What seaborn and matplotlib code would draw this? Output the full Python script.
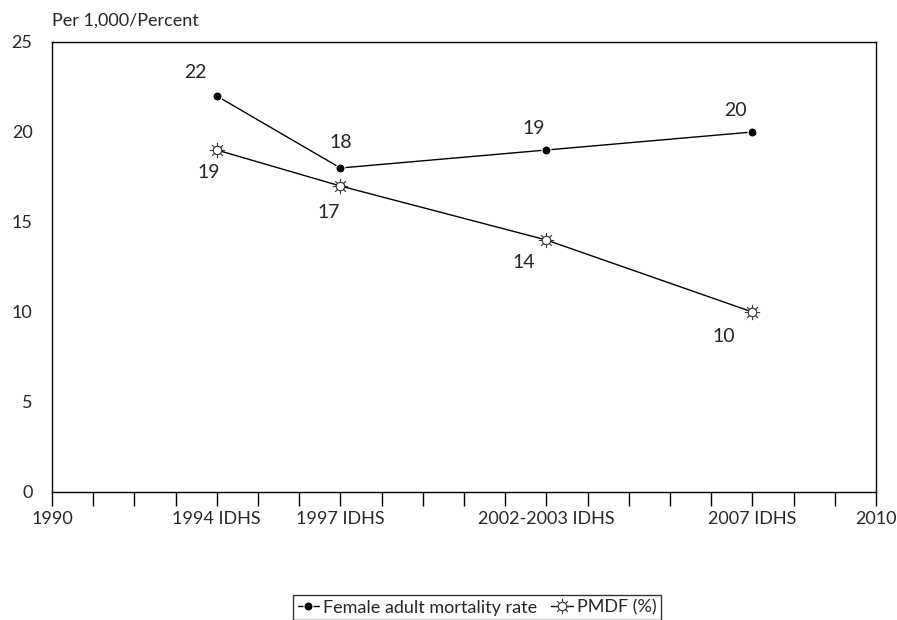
import matplotlib
matplotlib.use("Agg")
import matplotlib.pyplot as plt
from matplotlib.path import Path
import numpy as np
import pandas as pd
import seaborn as sns

sns.set_theme(style="white")
plt.rcParams["font.family"] = ["Lato", "DejaVu Sans"]

survey_years = [1994, 1997, 2002, 2007]
female_mortality = [22, 18, 19, 20]
pmdf_pct = [19, 17, 14, 10]
tick_years = [1990, 1994, 1997, 2002, 2007, 2010]
tick_labels = ["1990", "1994 IDHS", "1997 IDHS", "2002-2003 IDHS", "2007 IDHS", "2010"]

# label offsets in pixels (dx, dy) relative to each point
female_offsets = [(-21, 24), (0, 25), (-13, 22), (-17, 21)]
pmdf_offsets = [(-8, -22), (-12, -26), (-23, -22), (-29, -24)]


def sun_marker():
    # small circle with eight short rays
    circle = Path.unit_circle()
    circle = Path(circle.vertices * 0.55, circle.codes)
    parts = [circle]
    for a in np.arange(8) * np.pi / 4:
        c, s = np.cos(a), np.sin(a)
        parts.append(Path([(0.6 * c, 0.6 * s), (1.0 * c, 1.0 * s)],
                          [Path.MOVETO, Path.LINETO]))
    return Path.make_compound_path(*parts)


SUN = sun_marker()

df = pd.DataFrame({
    "year": survey_years * 2,
    "value": female_mortality + pmdf_pct,
    "series": ["Female adult mortality rate"] * 4 + ["PMDF (%)"] * 4,
})

fig = plt.figure(figsize=(8.97, 6.2), dpi=100)
ax = fig.add_axes([52 / 897, 1 - 492 / 620, 824 / 897, 450 / 620])

sns.lineplot(data=df[df.series == "Female adult mortality rate"], x="year", y="value",
             color="black", marker="o", markersize=6.5, linewidth=1,
             label="Female adult mortality rate", ax=ax)
sns.lineplot(data=df[df.series == "PMDF (%)"], x="year", y="value",
             color="black", marker=SUN, markersize=11, markeredgewidth=0.8,
             markerfacecolor="white", markeredgecolor="#333333",
             linewidth=1, label="PMDF (%)", ax=ax)

for x, y, (dx, dy) in zip(survey_years, female_mortality, female_offsets):
    ax.annotate(str(y), (x, y), xytext=(dx, dy), textcoords="offset pixels",
                ha="center", va="center", fontsize=14)
for x, y, (dx, dy) in zip(survey_years, pmdf_pct, pmdf_offsets):
    ax.annotate(str(y), (x, y), xytext=(dx, dy), textcoords="offset pixels",
                ha="center", va="center", fontsize=14)

ax.set_xlim(1990, 2010)
ax.set_ylim(0, 25)
ax.set_xticks(range(1990, 2011), minor=True)
ax.set_xticks(tick_years)
ax.set_xticklabels(tick_labels, fontsize=13)
ax.set_yticks(range(0, 26, 5))
ax.tick_params(axis="y", length=0, labelsize=13, pad=14)
ax.tick_params(axis="x", which="both", direction="out", length=10, width=1,
               color="black", bottom=True, pad=4)
ax.set_xlabel("")
ax.set_ylabel("")
for s in ax.spines.values():
    s.set_color("black")
    s.set_linewidth(1)

fig.text(52 / 897, 1 - 21 / 620, "Per 1,000/Percent", fontsize=13,
         ha="left", va="center")

leg = ax.legend(loc="upper center", bbox_to_anchor=(477 / 897, 1 - 595 / 620),
                bbox_transform=fig.transFigure, ncol=2, frameon=True,
                fancybox=False, edgecolor="black", fontsize=13, handlelength=1.2,
                handletextpad=0.2, columnspacing=0.8, borderpad=0.25,
                borderaxespad=0)
leg.get_frame().set_linewidth(1)

fig.savefig("out.png", dpi=100)
